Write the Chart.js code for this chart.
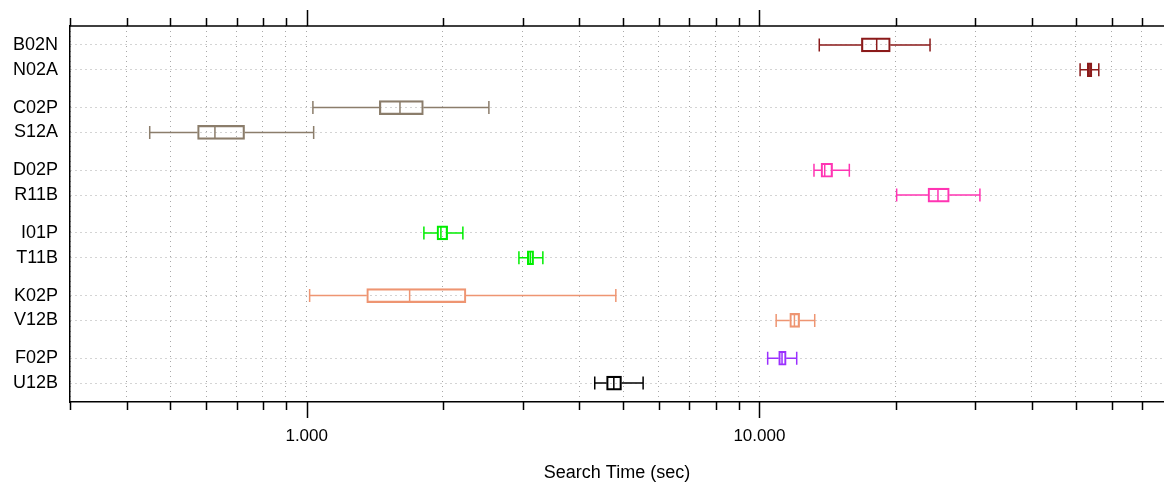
<!DOCTYPE html>
<html>
<head>
<meta charset="utf-8">
<script src="https://cdn.jsdelivr.net/npm/chart.js@4"></script>
<style>
  body { margin: 0; background: #fff; }
  #wrap { width: 1164px; height: 485px; }
</style>
</head>
<body>
<div id="wrap"><canvas id="chart-canvas"></canvas></div>
<script>
// search times per configuration, in seconds
let categories = ["B02N", "N02A", "C02P", "S12A", "D02P", "R11B", "I01P", "T11B", "K02P", "V12B", "F02P", "U12B"];
let whiskerLow = [13.56, 51.1, 1.032, 0.450, 13.2, 20.1, 1.815, 2.943, 1.015, 10.89, 10.43, 4.328];
let lowerQuartile = [16.8, 53.0, 1.447, 0.574, 13.68, 23.57, 1.94, 3.071, 1.357, 11.67, 11.03, 4.596];
let medianTime = [18.16, 53.7, 1.607, 0.627, 13.94, 24.8, 1.979, 3.118, 1.688, 11.95, 11.22, 4.769];
let upperQuartile = [19.46, 54.26, 1.81, 0.729, 14.51, 26.27, 2.048, 3.171, 2.248, 12.27, 11.46, 4.959];
let whiskerHigh = [23.82, 56.2, 2.526, 1.036, 15.8, 30.7, 2.213, 3.324, 4.818, 13.25, 12.09, 5.535];

let majorTicks = [1, 10];
let minorTicks = [0.3, 0.4, 0.5, 0.6, 0.7, 0.8, 0.9, 2, 3, 4, 5, 6, 7, 8, 9, 20, 30, 40, 50, 60, 70];
let majorLabels = ["1.000", "10.000"];

let colors = ["#8b1a1a", "#8b1a1a", "#8b7d6b", "#8b7d6b", "#ff34b3", "#ff34b3",
  "#00ee00", "#00ee00", "#ee9572", "#ee9572", "#9b30ff", "#000000"];

// rows come in pairs, with a wider gap between pairs
let pairStep = 2.52;
let rowPos = categories.map(function (c, i) {
  return Math.floor(i / 2) * pairStep + (i % 2);
});

let allTicks = minorTicks.concat(majorTicks).sort(function (a, b) { return a - b; });

let boxData = categories.map(function (c, i) {
  return { x: [lowerQuartile[i], upperQuartile[i]], y: rowPos[i] };
});

let lineWidth = 1.5;
let capHeight = 14;

// whiskers, medians and the top axis with its tick marks
let boxExtras = {
  id: "boxExtras",
  afterDatasetsDraw: function (chart) {
    let ctx = chart.ctx;
    let xs = chart.scales.x;
    let ys = chart.scales.y;
    ctx.save();
    ctx.lineWidth = lineWidth;
    categories.forEach(function (c, i) {
      let y = ys.getPixelForValue(rowPos[i]);
      let xLo = xs.getPixelForValue(whiskerLow[i]);
      let xQ1 = xs.getPixelForValue(lowerQuartile[i]);
      let xMed = xs.getPixelForValue(medianTime[i]);
      let xQ3 = xs.getPixelForValue(upperQuartile[i]);
      let xHi = xs.getPixelForValue(whiskerHigh[i]);
      let h = capHeight / 2 - 0.5;
      ctx.strokeStyle = colors[i];
      ctx.beginPath();
      ctx.moveTo(xLo, y); ctx.lineTo(xQ1, y);
      ctx.moveTo(xQ3, y); ctx.lineTo(xHi, y);
      ctx.moveTo(xLo, y - h); ctx.lineTo(xLo, y + h);
      ctx.moveTo(xHi, y - h); ctx.lineTo(xHi, y + h);
      ctx.moveTo(xMed, y - h); ctx.lineTo(xMed, y + h);
      ctx.stroke();
    });
    ctx.restore();
  },
  afterDraw: function (chart) {
    let ctx = chart.ctx;
    let xs = chart.scales.x;
    let area = chart.chartArea;
    ctx.save();
    ctx.strokeStyle = "#000";
    ctx.lineWidth = lineWidth;
    ctx.beginPath();
    ctx.moveTo(area.left, area.top);
    ctx.lineTo(chart.width, area.top);
    allTicks.forEach(function (v) {
      let x = Math.max(area.left, Math.round(xs.getPixelForValue(v))) + 0.5;
      let len = majorTicks.indexOf(v) >= 0 ? 16 : 8;
      ctx.moveTo(x, area.top);
      ctx.lineTo(x, area.top - len);
      ctx.moveTo(x, area.bottom);
      ctx.lineTo(x, area.bottom + len);
    });
    ctx.stroke();
    ctx.restore();
  }
};

let chart = document.getElementById("chart-canvas").getContext("2d");

let chart1 = new Chart(chart, {
  type: "bar",
  data: {
    datasets: [
      {
        label: "Search Time",
        data: boxData,
        backgroundColor: "rgba(0,0,0,0)",
        borderColor: colors,
        borderWidth: lineWidth,
        borderSkipped: false,
        barThickness: capHeight,
      },
    ],
  },
  plugins: [boxExtras],
  options: {
    indexAxis: "y",
    responsive: true,
    maintainAspectRatio: false,
    animation: false,
    layout: { padding: { top: 26, right: 0, left: 0, bottom: 0 } },
    plugins: {
      legend: { display: false },
      tooltip: { enabled: false },
    },
    scales: {
      x: {
        type: "logarithmic",
        position: "bottom",
        min: 0.3013,
        max: 78.3,
        afterBuildTicks: function (scale) {
          scale.ticks = allTicks.map(function (v) { return { value: v }; });
        },
        afterFit: function (scale) {
          scale.height = 83;
          scale.paddingRight = 0;
          scale.paddingLeft = 0;
        },
        ticks: {
          autoSkip: false,
          maxRotation: 0,
          padding: 24,
          color: "#000",
          font: { family: "Liberation Sans, Arial, sans-serif", size: 17 },
          callback: function (value) {
            let k = majorTicks.indexOf(value);
            return k >= 0 ? majorLabels[k] : "";
          },
        },
        grid: { color: "#a8a8a8", lineWidth: 1, drawTicks: false },
        border: { display: true, color: "#000", width: lineWidth, dash: [1, 4] },
        title: {
          display: true,
          text: "Search Time (sec)",
          color: "#000",
          font: { family: "Liberation Sans, Arial, sans-serif", size: 18 },
          padding: { top: 0, bottom: 1 },
        },
      },
      y: {
        type: "linear",
        reverse: true,
        offset: false,
        min: -0.76,
        max: rowPos[rowPos.length - 1] + 0.76,
        afterBuildTicks: function (scale) {
          scale.ticks = rowPos.map(function (v) { return { value: v }; });
        },
        afterFit: function (scale) {
          scale.width = 70;
        },
        ticks: {
          autoSkip: false,
          padding: 12,
          color: "#000",
          font: { family: "Liberation Sans, Arial, sans-serif", size: 18 },
          callback: function (value, index) {
            return categories[index];
          },
        },
        grid: { color: "#a8a8a8", lineWidth: 1, drawTicks: false, offset: false },
        border: { display: true, color: "#000", width: lineWidth, dash: [1, 4] },
      },
    },
  },
});
</script>
</body>
</html>
